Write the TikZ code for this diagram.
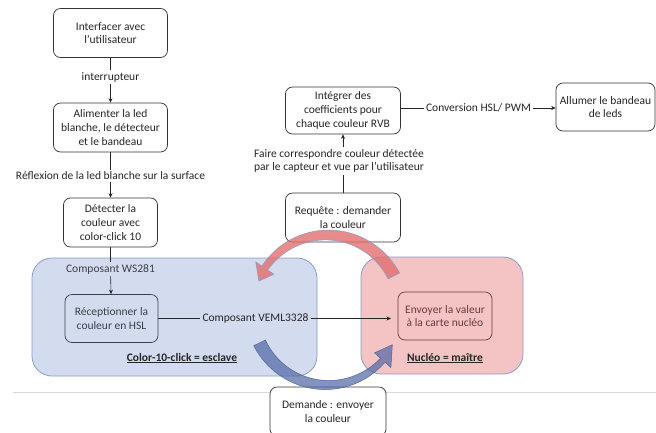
\documentclass[tikz,border=0pt]{standalone}
\usepackage{fontspec}
\setmainfont{Carlito}
\usetikzlibrary{arrows.meta,calc}
\definecolor{bluefill}{HTML}{D3DBEE}
\definecolor{blueline}{HTML}{8A9CCB}
\definecolor{redfill}{HTML}{F4C3C3}
\definecolor{redarr}{HTML}{E26E6E}
\definecolor{bluearr}{HTML}{4F66A3}
\definecolor{txt}{HTML}{262626}
\definecolor{slavetxt}{HTML}{3A404C}
\definecolor{mastertxt}{HTML}{6E3A3A}
\begin{document}
\begin{tikzpicture}[x=1pt,y=-1pt,
  font=\fontsize{11.5}{13.6}\selectfont,
  box/.style={draw=black!80, line width=0.7pt, rounded corners=7pt, align=center, inner sep=0pt, text=txt},
  lab/.style={inner sep=2pt, text=txt, align=center},
  container/.style={draw=blueline, line width=0.8pt, rounded corners=20pt, inner sep=0pt},
  arr/.style={-{Stealth[length=4.5pt,width=4pt]}},
  ln/.style={draw=black!85, line width=0.6pt}]
\useasboundingbox (0,0) rectangle (656,432);
\fill[white] (0,0) rectangle (656,432);

% separator line
\draw[gray!30, line width=0.7pt] (13,392) -- (656,392);

% containers
\node[container, fill=bluefill, minimum width=285, minimum height=118] (slave) at (174.5,317) {};
\node[container, fill=redfill, minimum width=162, minimum height=117] (master) at (442,315.5) {};

% left column
\node[box, minimum width=114, minimum height=49] (b1) at (110.5,33) {Interfacer avec\\l’utilisateur};
\node[lab] (lint) at (110.5,77) {interrupteur};
\node[box, minimum width=114, minimum height=49] (b2) at (110.5,127.5) {Alimenter la led\\blanche, le détecteur\\et le bandeau};
\node[lab] (lrefl) at (110.5,176) {Réflexion de la led blanche sur la surface};
\node[box, minimum width=94, minimum height=49] (b3) at (110.5,222.5) {Détecter la\\couleur avec\\color-click 10};
\node[lab, text=slavetxt] (lws) at (110.5,269) {Composant WS281};
\node[box, draw=slavetxt, text=slavetxt, minimum width=93, minimum height=48] (b4) at (111.5,318.5) {Réceptionner la\\couleur en HSL};
\node[lab] (lveml) at (255.5,318.5) {Composant VEML3328};
\coordinate (tgt) at (391,318.5);
\node[inner sep=0pt, text=txt] (esc) at (182,358) {\textbf{\underline{Color-10-click = esclave}}};

% master
\node[box, draw=mastertxt, text=mastertxt, minimum width=94, minimum height=48] (b5) at (445,316) {Envoyer la valeur\\à la carte nucléo};
\node[inner sep=0pt, text=txt] (mai) at (445,358) {\textbf{\underline{Nucléo = maître}}};

% right part
\node[box, minimum width=115, minimum height=47] (b6) at (343,110.5) {Intégrer des\\coefficients pour\\chaque couleur RVB};
\node[lab] (lconv) at (478.5,108) {Conversion HSL/ PWM};
\node[box, minimum width=99, minimum height=48] (b7) at (605.5,107) {Allumer le bandeau\\de leds};
\node[lab] (lfaire) at (339,161) {Faire correspondre couleur détectée\\par le capteur et vue par l’utilisateur};
\node[box, minimum width=115, minimum height=49] (b8) at (343,217.5) {Requête : demander\\la couleur};

\node[box, fill=white, minimum width=116, minimum height=49] (b9) at (328,411.5) {Demande : envoyer\\la couleur};

% connectors
\draw[ln] (b1) -- (lint);
\draw[ln, arr] (lint) -- (b2);
\draw[ln] (b2) -- (lrefl);
\draw[ln, arr] (lrefl) -- (b3);
\draw[ln] (b3) -- (lws);
\draw[ln, arr] (lws) -- (b4);
\draw[ln] (b4) -- (lveml);
\draw[ln, arr] (lveml) -- (tgt);
\draw[ln] (b8.north) -- (b8.north |- lfaire.south);
\draw[ln, arr] (b8.north |- lfaire.north) -- (b8.north |- b6.south);
\draw[ln] (b6.east |- lconv) -- (lconv);
\draw[ln, arr] (lconv) -- (lconv -| b7.west);

% curved arrows
\fill[redarr, fill opacity=0.8] plot[domain=27:146, samples=50]
  ({327+(75+6.5-3*(\x-27)/119)*cos(\x)}, {310-(75+6.5-3*(\x-27)/119)*sin(\x)})
  -- ({327+86*cos(146)}, {310-86*sin(146)})
  -- ({327+74*cos(157)}, {310-74*sin(157)})
  -- ({327+64*cos(146)}, {310-64*sin(146)})
  -- plot[domain=146:27, samples=50]
  ({327+(75-6.5+3*(\x-27)/119)*cos(\x)}, {310-(75-6.5+3*(\x-27)/119)*sin(\x)})
  -- cycle;
\draw[blueline, line width=0.5pt] plot[domain=27:146, samples=50]
  ({327+(75+6.5-3*(\x-27)/119)*cos(\x)}, {310-(75+6.5-3*(\x-27)/119)*sin(\x)})
  -- ({327+86*cos(146)}, {310-86*sin(146)})
  -- ({327+74*cos(157)}, {310-74*sin(157)})
  -- ({327+64*cos(146)}, {310-64*sin(146)})
  -- plot[domain=146:27, samples=50]
  ({327+(75-6.5+3*(\x-27)/119)*cos(\x)}, {310-(75-6.5+3*(\x-27)/119)*sin(\x)})
  -- cycle;

\fill[bluearr, fill opacity=0.7] plot[domain=206:318, samples=50]
  ({327+(75+6.5-3.5*(\x-206)/112)*cos(\x)}, {310-(75+6.5-3.5*(\x-206)/112)*sin(\x)})
  -- ({327+86*cos(318)}, {310-86*sin(318)})
  -- ({327+74*cos(332)}, {310-74*sin(332)})
  -- ({327+64*cos(318)}, {310-64*sin(318)})
  -- plot[domain=318:206, samples=50]
  ({327+(75-6.5+3.5*(\x-206)/112)*cos(\x)}, {310-(75-6.5+3.5*(\x-206)/112)*sin(\x)})
  -- cycle;
\draw[bluearr, line width=0.5pt] plot[domain=206:318, samples=50]
  ({327+(75+6.5-3.5*(\x-206)/112)*cos(\x)}, {310-(75+6.5-3.5*(\x-206)/112)*sin(\x)})
  -- ({327+86*cos(318)}, {310-86*sin(318)})
  -- ({327+74*cos(332)}, {310-74*sin(332)})
  -- ({327+64*cos(318)}, {310-64*sin(318)})
  -- plot[domain=318:206, samples=50]
  ({327+(75-6.5+3.5*(\x-206)/112)*cos(\x)}, {310-(75-6.5+3.5*(\x-206)/112)*sin(\x)})
  -- cycle;
\end{tikzpicture}
\end{document}
